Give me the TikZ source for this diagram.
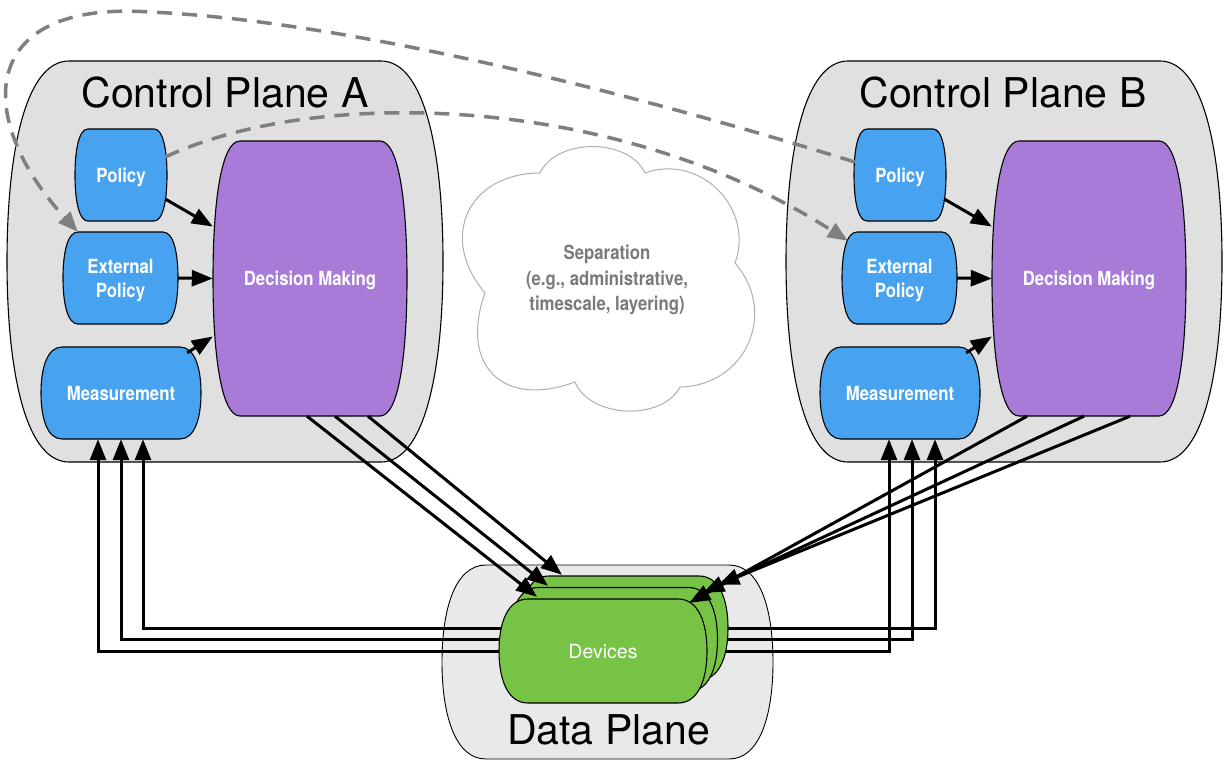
\documentclass[tikz,border=0pt]{standalone}
\usepackage{fontspec}
\setmainfont{TeX Gyre Heros}
\newfontfamily\condfont{TeX Gyre Heros}[FakeStretch=0.86]
\usetikzlibrary{arrows.meta,calc}

\definecolor{planegray}{HTML}{E0E0E0}
\definecolor{datagray}{HTML}{E9E9E9}
\definecolor{boxblue}{HTML}{47A2EF}
\definecolor{boxpurple}{HTML}{A77BD7}
\definecolor{devgreen}{HTML}{77C345}
\definecolor{dashgray}{HTML}{7F7F7F}
\definecolor{cloudline}{HTML}{AFAFAF}
\definecolor{cloudtext}{HTML}{7A7A7A}

% barrel outline: flat top and bottom, bulging sides
% args: [style] x0 y0 x1 y1 inset
\newcommand\barrel[6][]{%
  \path[#1] ({#2+#6},#3) -- ({#4-#6},#3)
    .. controls ({#4-0.3*#6},#3) and (#4,{#3+0.225*(#5-#3)}) .. (#4,{(#3+#5)/2})
    .. controls (#4,{#5-0.225*(#5-#3)}) and ({#4-0.3*#6},#5) .. ({#4-#6},#5)
    -- ({#2+#6},#5)
    .. controls ({#2+0.3*#6},#5) and (#2,{#5-0.225*(#5-#3)}) .. (#2,{(#3+#5)/2})
    .. controls (#2,{#3+0.225*(#5-#3)}) and ({#2+0.3*#6},#3) .. ({#2+#6},#3) -- cycle;}

\tikzset{
  plane/.style={fill=planegray, draw=black, line width=1.1pt},
  dataplane/.style={fill=datagray, draw=black, line width=0.9pt},
  bluebox/.style={fill=boxblue, draw=black, line width=1.1pt},
  purplebox/.style={fill=boxpurple, draw=black, line width=1.1pt},
  devbox/.style={fill=devgreen, draw=black, line width=1.1pt},
  devframe/.style={minimum width=208pt, minimum height=104pt, inner sep=0pt},
  boxlabel/.style={inner sep=0pt, text=white, align=center,
    font=\condfont\bfseries\fontsize{19.5}{24}\selectfont},
  onelabel/.style={boxlabel, text height=14pt, text depth=0pt},
  devlabel/.style={inner sep=0pt, text=white, text height=14pt, text depth=0pt,
    font=\fontsize{19.5}{24}\selectfont},
  title/.style={inner sep=0pt, anchor=base, font=\fontsize{41}{45}\selectfont},
  flow/.style={line width=3pt, -{Triangle[length=21pt,width=16pt]}},
  ext/.style={draw=dashgray, line width=3.5pt, dash pattern=on 15pt off 10pt,
    -{Triangle[length=20pt,width=16pt,fill=dashgray]}},
}

\begin{document}
\begin{tikzpicture}[x=1pt,y=-1pt]
\useasboundingbox (0,0) rectangle (1225,760);

% planes
\barrel[plane]{7}{61}{443}{462}{62}
\barrel[plane]{786}{61}{1222}{462}{62}
\barrel[dataplane]{442}{565}{773}{759}{44}

\node[title] (titleA) at (225,107) {Control Plane A};
\node[title] (titleB) at (1003,107) {Control Plane B};

% separation cloud
\draw[cloudline, fill=white, line width=1pt]
  (485,293) to[bend left=65, looseness=1.4] (540,173)
  to[bend left=65, looseness=0.95] (645,173)
  to[bend left=65, looseness=1.17] (735,263)
  to[bend left=65, looseness=1.24] (680,387)
  to[bend left=65, looseness=0.95] (575,382)
  to[bend left=65, looseness=1.55] (485,293) -- cycle;
\node[inner sep=0pt, align=center, text=cloudtext,
  font=\condfont\bfseries\fontsize{19.5}{25.5}\selectfont] (sep) at (607,280)
  {Separation\\(e.g., administrative,\\timescale, layering)};

% control plane A
\barrel[bluebox]{75}{129}{167}{221}{13}
\node[onelabel, minimum width=92pt, minimum height=92pt] (polA) at (121,175) {Policy};
\barrel[bluebox]{63}{232}{178}{324}{15}
\node[boxlabel, minimum width=115pt, minimum height=92pt] (extA) at (120.5,278)
  {\rule{0pt}{19pt}External\\Policy};
\barrel[bluebox]{41}{347}{201}{439}{21}
\node[onelabel, minimum width=160pt, minimum height=92pt] (measA) at (121,393) {Measurement};
\barrel[purplebox]{213}{141}{407}{416}{27}
\node[onelabel, minimum width=194pt, minimum height=275pt] (dmA) at (310,278.5) {Decision Making};

% control plane B
\barrel[bluebox]{854}{129}{946}{221}{13}
\node[onelabel, minimum width=92pt, minimum height=92pt] (polB) at (900,175) {Policy};
\barrel[bluebox]{842}{232}{957}{324}{15}
\node[boxlabel, minimum width=115pt, minimum height=92pt] (extB) at (899.5,278)
  {\rule{0pt}{19pt}External\\Policy};
\barrel[bluebox]{820}{347}{980}{439}{21}
\node[onelabel, minimum width=160pt, minimum height=92pt] (measB) at (900,393) {Measurement};
\barrel[purplebox]{992}{141}{1186}{416}{27}
\node[onelabel, minimum width=194pt, minimum height=275pt] (dmB) at (1089,278.5) {Decision Making};

% inputs to decision making
\draw[flow] ($(polA.east)+(-2,24)$) -- ($(dmA.west)+(0,-52)$);
\draw[flow] (extA.east) -- (dmA.west);
\draw[flow] ($(measA.north east)+(-14,6)$) -- ($(dmA.west)+(0,58)$);
\draw[flow] ($(polB.east)+(-2,24)$) -- ($(dmB.west)+(0,-52)$);
\draw[flow] (extB.east) -- (dmB.west);
\draw[flow] ($(measB.north east)+(-14,6)$) -- ($(dmB.west)+(0,58)$);

% the three stacked devices (back, middle, front)
\node[devframe] (devC) at (624,628) {};
\node[devframe] (devB) at (613.5,639.5) {};
\node[devframe] (devA) at (603,651) {};

% measurement feeds from the devices
\draw[flow] (devC.west) -| ([xshift=22pt]measA.south);
\draw[flow] (devB.west) -| (measA.south);
\draw[flow] (devA.west) -| ([xshift=-23pt]measA.south);
\draw[flow] (devC.east) -| ([xshift=35pt]measB.south);
\draw[flow] (devB.east) -| ([xshift=12pt]measB.south);
\draw[flow] (devA.east) -| ([xshift=-11pt]measB.south);

\barrel[devbox]{520}{576}{728}{680}{29}
\barrel[devbox]{509.5}{587.5}{717.5}{691.5}{29}
\barrel[devbox]{499}{599}{707}{703}{29}
\node[devlabel] (devtext) at (devA.center) {Devices};

\node[title] (titleD) at (608.5,744) {Data Plane};

% decisions pushed to the devices
\draw[flow] ([xshift=-3pt]dmA.south) -- ($(devA.north)+(-66,-2)$);
\draw[flow] ([xshift=25pt]dmA.south) -- ($(devB.north)+(-65.5,-1.5)$);
\draw[flow] ([xshift=58pt]dmA.south) -- ($(devC.north)+(-62,-1)$);
\draw[flow] ([xshift=-62pt]dmB.south) -- ($(devA.north east)+(-18,4)$);
\draw[flow] ([xshift=-5pt]dmB.south) -- ($(devB.north east)+(-14.5,5.5)$);
\draw[flow] ([xshift=41pt]dmB.south) -- ($(devC.north east)+(-10,9)$);

% policy exchanged across planes
\draw[ext] ($(polB.west)+(1,-13)$) .. controls (600,83) and (330,20) .. (150,12)
  .. controls (-25,0) and (-25,120) .. ($(extA.north west)+(15,0)$);
\draw[ext] ($(polA.east)+(-2,-18)$) .. controls (320,85) and (620,95)
  .. ($(extB.north west)+(6,9)$);
\end{tikzpicture}
\end{document}
